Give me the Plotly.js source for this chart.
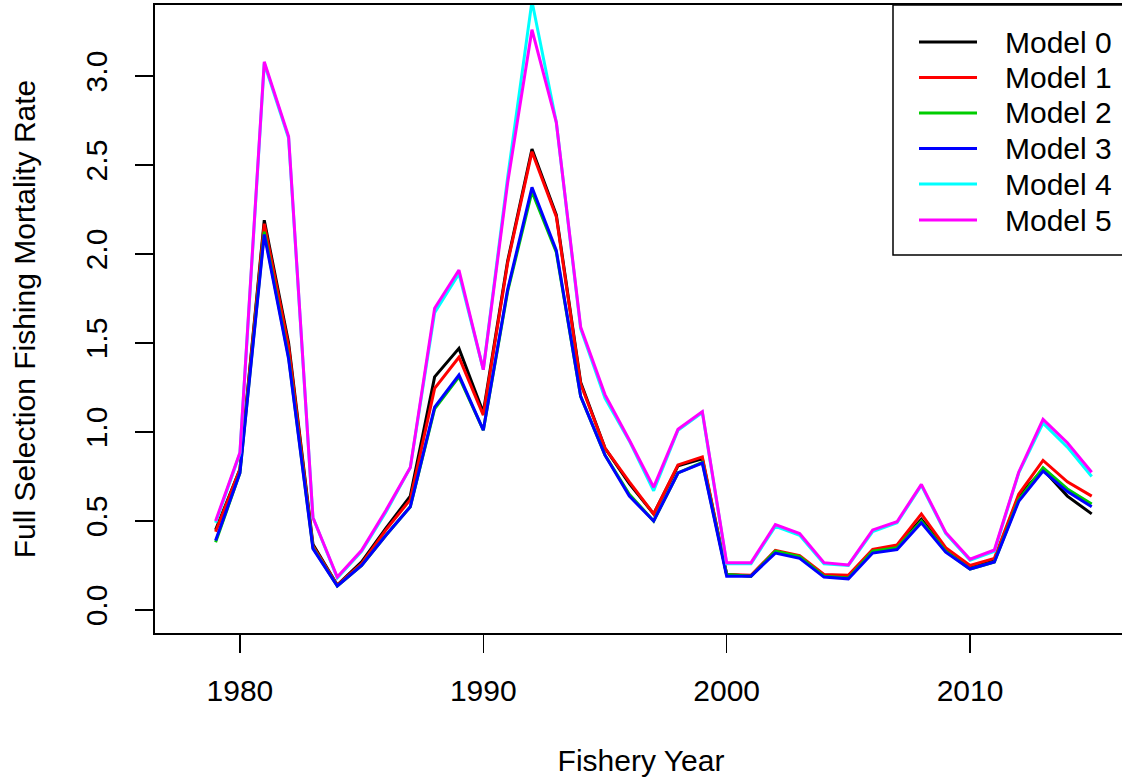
<!DOCTYPE html>
<html>
<head>
<meta charset="utf-8">
<script src="https://cdn.plot.ly/plotly-3.0.1.min.js"></script>
<style>
html,body{margin:0;padding:0;background:#fff;overflow:hidden;}
#chart{width:1135px;height:782px;}
</style>
</head>
<body>
<div id="chart"></div>
<script>
const years = [1979,1980,1981,1982,1983,1984,1985,1986,1987,1988,1989,1990,1991,1992,1993,1994,1995,1996,1997,1998,1999,2000,2001,2002,2003,2004,2005,2006,2007,2008,2009,2010,2011,2012,2013,2014,2015];

const model0 = [0.45,0.79,2.19,1.50,0.37,0.14,0.27,0.46,0.64,1.31,1.47,1.11,1.96,2.59,2.22,1.28,0.91,0.71,0.54,0.81,0.85,0.20,0.19,0.33,0.30,0.19,0.19,0.33,0.36,0.51,0.34,0.24,0.28,0.64,0.79,0.64,0.54];
const model1 = [0.44,0.79,2.17,1.48,0.36,0.14,0.26,0.45,0.62,1.245,1.42,1.095,1.95,2.575,2.21,1.27,0.91,0.72,0.54,0.815,0.86,0.20,0.195,0.335,0.305,0.20,0.195,0.34,0.365,0.54,0.35,0.25,0.29,0.65,0.84,0.72,0.64];
const model2 = [0.38,0.77,2.125,1.42,0.35,0.135,0.25,0.42,0.58,1.13,1.31,1.01,1.79,2.35,2.01,1.20,0.87,0.65,0.50,0.77,0.83,0.20,0.19,0.33,0.30,0.19,0.18,0.33,0.35,0.50,0.33,0.23,0.27,0.62,0.80,0.68,0.595];
const model3 = [0.39,0.77,2.11,1.41,0.345,0.135,0.25,0.42,0.58,1.14,1.32,1.01,1.80,2.375,2.02,1.20,0.87,0.64,0.50,0.77,0.825,0.19,0.19,0.32,0.29,0.185,0.175,0.32,0.34,0.49,0.325,0.23,0.27,0.61,0.78,0.665,0.58];
const model4 = [0.49,0.88,3.07,2.65,0.52,0.18,0.33,0.55,0.80,1.67,1.89,1.35,2.43,3.42,2.74,1.58,1.19,0.95,0.67,1.01,1.11,0.26,0.26,0.47,0.42,0.26,0.25,0.44,0.49,0.70,0.43,0.28,0.33,0.77,1.05,0.915,0.75];
const model5 = [0.50,0.885,3.08,2.66,0.52,0.185,0.335,0.56,0.80,1.695,1.91,1.35,2.40,3.26,2.74,1.59,1.21,0.955,0.69,1.015,1.115,0.266,0.266,0.48,0.43,0.266,0.253,0.45,0.496,0.706,0.436,0.285,0.337,0.774,1.071,0.94,0.774];

const seriesNames = ["Model 0","Model 1","Model 2","Model 3","Model 4","Model 5"];
const seriesValues = [model0, model1, model2, model3, model4, model5];
const seriesColors = ["#000000","#ff0000","#00cd00","#0000ff","#00ffff","#ff00ff"];

const xTicks = [1980,1990,2000,2010];
const yTicks = [0,0.5,1,1.5,2,2.5,3];
const yTickText = ["0.0","0.5","1.0","1.5","2.0","2.5","3.0"];

const FONT = {family: "Liberation Sans, Arial, sans-serif", size: 30, color: "#000"};

// pixel geometry helpers (plot area 155..1127 x, 5..633 y)
const L = 155, R = 1127, T = 5, B = 633;
const px = v => (v - L) / (R - L);
const py = v => (B - v) / (B - T);

const traces = seriesValues.map((vals, i) => ({
  type: "scatter", mode: "lines", x: years, y: vals, name: seriesNames[i],
  line: {color: seriesColors[i], width: 3}, showlegend: false, hoverinfo: "skip"
}));

const shapes = [];
const annotations = [];
// legend box
shapes.push({type: "rect", xref: "paper", yref: "paper", x0: px(893), x1: px(1160), y0: py(255), y1: py(5),
  line: {color: "#000", width: 1.5}, fillcolor: "#fff", layer: "above"});
const rows = [42, 77.5, 113, 148.5, 184, 220];
seriesNames.forEach((n, i) => {
  shapes.push({type: "line", xref: "paper", yref: "paper", x0: px(919), x1: px(977), y0: py(rows[i]), y1: py(rows[i]),
    line: {color: seriesColors[i], width: 3}, layer: "above"});
  annotations.push({xref: "paper", yref: "paper", x: px(1003), y: py(rows[i]), xanchor: "left", yanchor: "middle",
    text: n, showarrow: false, font: FONT});
});

const layout = {
  width: 1135, height: 782,
  margin: {l: L, r: 1135 - R, t: T, b: 782 - B},
  paper_bgcolor: "#fff", plot_bgcolor: "#fff",
  font: FONT,
  showlegend: false,
  xaxis: {
    range: [1976.51, 2016.45], tickvals: xTicks, ticktext: xTicks.map(String),
    ticks: "outside", ticklen: 18, tickwidth: 1.5, tickcolor: "#000",
    showline: true, linewidth: 2, linecolor: "#000", mirror: true,
    showgrid: false, zeroline: false, tickfont: FONT,
    ticklabelstandoff: 12,
    title: {text: "Fishery Year", font: FONT, standoff: 44}
  },
  yaxis: {
    range: [-0.1292, 3.399], tickvals: yTicks, ticktext: yTickText,
    ticks: "outside", ticklen: 18, tickwidth: 1.5, tickcolor: "#000",
    showline: true, linewidth: 2, linecolor: "#000", mirror: true,
    showgrid: false, zeroline: false, tickfont: FONT, tickangle: -90,
    ticklabelstandoff: 16,
    title: {text: "Full Selection Fishing Mortality Rate", font: FONT, standoff: 36}
  },
  shapes: shapes,
  annotations: annotations
};

Plotly.newPlot("chart", traces, layout, {staticPlot: true, displayModeBar: false});
</script>
</body>
</html>
